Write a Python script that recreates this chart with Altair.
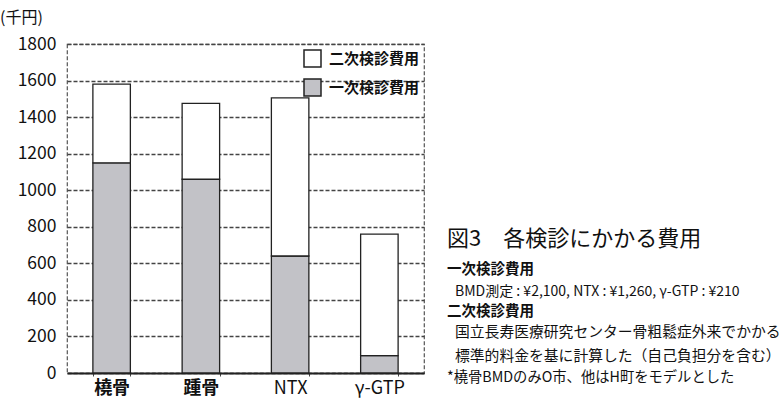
import altair as alt
import pandas as pd

categories = ["橈骨", "踵骨", "NTX", "γ-GTP"]
primary = [1150, 1060, 640, 95]      # 一次検診費用
secondary = [430, 415, 865, 665]     # 二次検診費用
series = ["一次検診費用", "二次検診費用"]
y_ticks = [0, 200, 400, 600, 800, 1000, 1200, 1400, 1600, 1800]

rows = []
for c, p, s in zip(categories, primary, secondary):
    rows.append({"cat": c, "series": series[0], "value": p, "ord": 0})
    rows.append({"cat": c, "series": series[1], "value": s, "ord": 1})
df = pd.DataFrame(rows)

FONT = "Noto Sans CJK JP"

bars = alt.Chart(df).mark_bar(stroke="#222", strokeWidth=1.3).encode(
    x=alt.X("cat:N", sort=categories, title=None,
            scale=alt.Scale(paddingInner=0.58, paddingOuter=0.29),
            axis=alt.Axis(labelAngle=0, labelFontSize=18, labelFont=FONT, labelColor="#111",
                          labelFontWeight=alt.condition("datum.value == '橈骨' || datum.value == '踵骨'",
                                                        alt.value("bold"), alt.value("normal")),
                          domainColor="#222", domainWidth=2, tickBand="extent",
                          tickSize=3, tickColor="#444", labelPadding=3)),
    y=alt.Y("value:Q", stack="zero", title=None,
            scale=alt.Scale(domain=[0, 1800], nice=False),
            axis=alt.Axis(values=y_ticks, format="d", labelFontSize=17.5, labelFont=FONT,
                          labelColor="#111", domain=False, ticks=False, labelPadding=11,
                          gridDash=[4, 2], gridColor="#444", gridWidth=1.3)),
    color=alt.Color("series:N",
                    scale=alt.Scale(domain=["二次検診費用", "一次検診費用"], range=["#ffffff", "#c2c2c7"]),
                    legend=alt.Legend(title=None, orient="none", legendX=236, legendY=5,
                                      symbolType="square", symbolSize=289,
                                      symbolStrokeColor="#222", symbolStrokeWidth=1.5,
                                      labelFontSize=15, labelFont=FONT, labelColor="#111",
                                      labelFontWeight="bold", rowPadding=6, labelOffset=7)),
    order=alt.Order("ord:Q", sort="ascending"),
)

layers = [bars]

def txt(s, x, y, size, weight="normal", align="left"):
    return alt.Chart(pd.DataFrame({"a": [0]})).mark_text(
        text=s, fontSize=size, font=FONT, fontWeight=weight, align=align,
        baseline="middle", color="#111"
    ).encode(x=alt.value(x), y=alt.value(y))

layers += [
    txt("(千円)", -67, -26, 16),
    txt("図3　各検診にかかる費用", 380, 195, 22),
    txt("一次検診費用", 380, 226, 14.5, "bold"),
    txt("BMD測定 : ¥2,100, NTX : ¥1,260, γ-GTP : ¥210", 388, 248, 14),
    txt("二次検診費用", 380, 268, 14.5, "bold"),
    txt("国立長寿医療研究センター骨粗鬆症外来でかかる", 388, 289, 14.8),
    txt("標準的料金を基に計算した（自己負担分を含む）", 388, 313, 14.8),
    txt("*橈骨BMDのみO市、他はH町をモデルとした", 380, 334, 14.3),
]

chart = alt.layer(*layers).properties(
    width=357, height=329,
    autosize=alt.AutoSizeParams(type="none"),
    padding={"left": 67, "top": 44, "right": 358, "bottom": 29},
    background="white",
).configure_view(
    stroke="#555", strokeDash=[4, 2], strokeWidth=1.2
)

chart.save("out.html", embed_options={"renderer": "svg", "actions": False})
